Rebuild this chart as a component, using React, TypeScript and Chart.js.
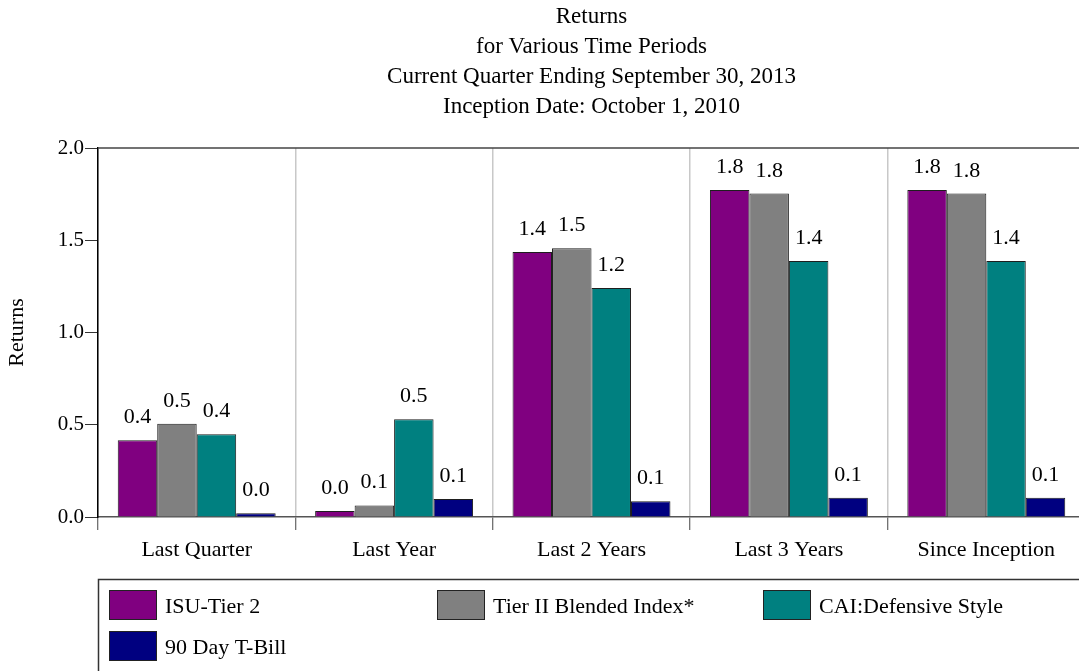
import React, { useEffect, useRef } from "react";
import { Chart, registerables } from "chart.js";

Chart.register(...registerables);

// ---------- data ----------
const categories = ["Last Quarter", "Last Year", "Last 2 Years", "Last 3 Years", "Since Inception"];
const seriesNames = ["ISU-Tier 2", "Tier II Blended Index*", "CAI:Defensive Style", "90 Day T-Bill"];
const isuTier2 = [0.416, 0.033, 1.436, 1.772, 1.772];
const tierIIBlended = [0.506, 0.063, 1.456, 1.753, 1.753];
const caiDefensive = [0.448, 0.53, 1.241, 1.387, 1.387];
const tBill90 = [0.02, 0.098, 0.086, 0.105, 0.105];
const yMin = 0;
const yMax = 2.0;
const yStep = 0.5;
const titleLines = [
  "Returns",
  "for Various Time Periods",
  "Current Quarter Ending September 30, 2013",
  "Inception Date: October 1, 2010",
];
const yAxisTitle = "Returns";

// ---------- style ----------
const FONT = "'Liberation Serif', 'Times New Roman', Times, serif";
const seriesColors = ["#800080", "#808080", "#008080", "#000080"];

const valueLabels = {
  id: "valueLabels",
  afterDatasetsDraw(chart: any) {
    const ctx = chart.ctx;
    ctx.save();
    ctx.font = `22px ${FONT}`;
    ctx.fillStyle = "#000";
    ctx.textAlign = "center";
    ctx.textBaseline = "alphabetic";
    chart.data.datasets.forEach((ds: any, i: number) => {
      const meta = chart.getDatasetMeta(i);
      meta.data.forEach((el: any, j: number) => {
        const v = ds.data[j] as number;
        ctx.fillText(v.toFixed(1), el.x, el.y - 17);
      });
    });
    ctx.restore();
  },
};

const frameAndLegend = {
  id: "frameAndLegend",
  afterDraw(chart: any) {
    const ctx = chart.ctx;
    const ca = chart.chartArea;
    ctx.save();
    // top border of plot area
    ctx.strokeStyle = "#444";
    ctx.lineWidth = 1.5;
    ctx.beginPath();
    ctx.moveTo(ca.left, ca.top);
    ctx.lineTo(ca.right, ca.top);
    ctx.stroke();

    // legend box
    const boxLeft = 98.5;
    const boxTop = 579.5;
    ctx.strokeStyle = "#333";
    ctx.lineWidth = 1.5;
    ctx.strokeRect(boxLeft, boxTop, chart.width + 20, 200);

    const cols = [109, 437, 763];
    const rowTops = [590, 631];
    ctx.font = `22px ${FONT}`;
    ctx.textAlign = "left";
    ctx.textBaseline = "middle";
    chart.data.datasets.forEach((ds: any, i: number) => {
      const col = i % 3;
      const row = Math.floor(i / 3);
      const x = cols[col];
      const y = rowTops[row];
      ctx.fillStyle = ds.backgroundColor;
      ctx.fillRect(x, y, 48, 30);
      ctx.strokeStyle = "#222";
      ctx.lineWidth = 1;
      ctx.strokeRect(x + 0.5, y + 0.5, 47, 29);
      ctx.fillStyle = "#000";
      ctx.fillText(ds.label, x + 56, y + 17);
    });
    ctx.restore();
  },
};

export default function App() {
  const canvasRef = useRef<HTMLCanvasElement | null>(null);

  useEffect(() => {
    if (!canvasRef.current) return;
    const seriesValues = [isuTier2, tierIIBlended, caiDefensive, tBill90];
    const chart = new Chart(canvasRef.current, {
      type: "bar",
      data: {
        labels: categories,
        datasets: seriesNames.map((name, i) => ({
          label: name,
          data: seriesValues[i],
          backgroundColor: seriesColors[i],
          borderColor: "#1e1e1e",
          borderWidth: 1,
          categoryPercentage: 0.8,
          barPercentage: 1.0,
        })),
      },
      options: {
        responsive: false,
        animation: false,
        devicePixelRatio: 1,
        layout: { padding: { left: 0, right: 1, top: 0, bottom: 104 } },
        plugins: {
          legend: { display: false },
          tooltip: { enabled: false },
          title: {
            display: true,
            text: titleLines,
            fullSize: false,
            color: "#000",
            font: { family: FONT, size: 23, weight: "normal", lineHeight: 30 / 23 },
            padding: { top: 2, bottom: 26 },
          },
        },
        scales: {
          x: {
            offset: true,
            grid: {
              offset: true,
              color: "#c8c8c8",
              lineWidth: 1.5,
              tickColor: "#444",
              tickLength: 13,
              tickWidth: 1,
            },
            border: { color: "#555", width: 1.5 },
            ticks: {
              color: "#000",
              font: { family: FONT, size: 22 },
              padding: 7,
              maxRotation: 0,
            },
            afterFit: (s: any) => {
              s.height = 50;
            },
          },
          y: {
            min: yMin,
            max: yMax,
            ticks: {
              stepSize: yStep,
              color: "#000",
              font: { family: FONT, size: 21 },
              padding: 1,
              callback: (v: any) => Number(v).toFixed(1),
            },
            grid: {
              drawOnChartArea: false,
              tickColor: "#333",
              tickLength: 13,
              tickWidth: 1,
            },
            border: { color: "#000", width: 1.5 },
            title: {
              display: true,
              text: yAxisTitle,
              color: "#000",
              font: { family: FONT, size: 22 },
              padding: { top: 4, bottom: 0 },
            },
            afterFit: (s: any) => {
              s.width = 98;
            },
          },
        },
      },
      plugins: [valueLabels, frameAndLegend],
    });
    return () => chart.destroy();
  }, []);

  return (
    <div
      style={{
        position: "fixed",
        left: 0,
        top: 0,
        width: 1079,
        height: 671,
        overflow: "hidden",
        background: "#fff",
      }}
    >
      <canvas ref={canvasRef} width={1086} height={671} style={{ display: "block" }} />
    </div>
  );
}
